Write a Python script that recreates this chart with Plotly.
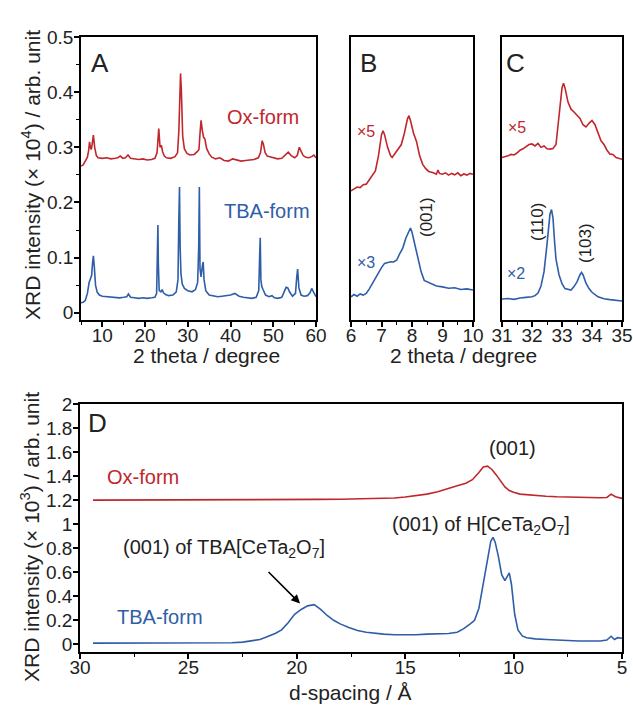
import plotly.graph_objects as go

W, H = 633, 706
RED = "#c0272d"
BLUE = "#2f5ea8"
FONT = "Arial, Liberation Sans, sans-serif"

# ---------------- Panel A (2 theta, wide range) ----------------
a_ox_x = [5.0, 5.5, 6.0, 6.5, 6.8, 7.0, 7.2, 7.4, 7.6, 7.9,
          8.2, 8.6, 9.0, 10, 11, 12, 13, 13.6, 14.2, 14.8,
          15.4, 16.0, 16.6, 17.5, 18.5, 19.5, 20.5, 21.5, 22.3, 22.8,
          23.2, 23.5, 23.8, 24.1, 24.5, 25, 26, 27, 27.6, 27.9,
          28.1, 28.3, 28.5, 28.8, 29.2, 29.8, 30.5, 31.5, 32.2, 32.6,
          32.9, 33.1, 33.4, 33.7, 34.0, 34.4, 35.0, 35.6, 36.5, 37.5,
          38.5, 39.5, 40.5, 41.5, 42.5, 43.5, 44.5, 45.5, 46.5, 47.0,
          47.4, 47.7, 48.1, 48.6, 49.2, 50, 51, 52, 52.8, 53.5,
          54.2, 55, 55.6, 56.1, 56.5, 57.0, 57.6, 58.3, 59.0, 59.5,
          60.0]
a_ox_y = [0.266, 0.268, 0.275, 0.282, 0.295, 0.310, 0.300, 0.296, 0.305, 0.322,
          0.300, 0.285, 0.281, 0.280, 0.281, 0.279, 0.280, 0.281, 0.284, 0.280,
          0.281, 0.286, 0.280, 0.279, 0.278, 0.279, 0.277, 0.278, 0.280, 0.290,
          0.334, 0.300, 0.304, 0.292, 0.284, 0.281, 0.280, 0.283, 0.290, 0.330,
          0.420, 0.434, 0.400, 0.320, 0.297, 0.289, 0.286, 0.287, 0.292, 0.296,
          0.330, 0.349, 0.330, 0.318, 0.315, 0.298, 0.288, 0.282, 0.279, 0.281,
          0.276, 0.275, 0.279, 0.277, 0.275, 0.276, 0.277, 0.278, 0.281, 0.290,
          0.312, 0.305, 0.290, 0.284, 0.283, 0.281, 0.279, 0.280, 0.285, 0.291,
          0.285, 0.281, 0.285, 0.300, 0.293, 0.285, 0.282, 0.281, 0.283, 0.286,
          0.281]

a_tba_x = [5.0, 5.5, 6.0, 6.5, 6.9, 7.2, 7.5, 7.7, 7.9, 8.1,
           8.4, 8.8, 9.3, 10, 11, 12, 13, 14, 15, 15.7,
           16.1, 16.6, 17.5, 18.5, 19.5, 20.5, 21.5, 22.3, 22.7, 22.9,
           23.0, 23.1, 23.3, 23.7, 24.0, 24.3, 24.8, 25.5, 26.5, 27.3,
           27.7, 27.9, 28.05, 28.2, 28.4, 28.7, 29.2, 30, 31, 31.8,
           32.3, 32.55, 32.7, 32.85, 33.1, 33.4, 33.6, 33.8, 34.2, 35,
           36, 37, 38, 39, 40, 41, 42, 43, 44, 45,
           46, 46.6, 46.8, 46.95, 47.1, 47.3, 47.6, 48.2, 49, 49.7,
           50.3, 51, 52, 52.6, 53.0, 53.4, 53.8, 54.5, 55.2, 55.5,
           55.7, 56.0, 56.5, 57.2, 58, 58.6, 59.0, 59.4, 60]
a_tba_y = [0.018, 0.019, 0.022, 0.035, 0.055, 0.060, 0.068, 0.090, 0.103, 0.085,
           0.050, 0.037, 0.032, 0.030, 0.029, 0.028, 0.027, 0.027, 0.028, 0.029,
           0.034, 0.028, 0.027, 0.026, 0.027, 0.026, 0.027, 0.028, 0.035, 0.100,
           0.159, 0.090, 0.040, 0.038, 0.042, 0.036, 0.033, 0.031, 0.032, 0.038,
           0.060, 0.170, 0.228, 0.120, 0.070, 0.052, 0.044, 0.040, 0.038, 0.042,
           0.055, 0.120, 0.228, 0.080, 0.065, 0.085, 0.092, 0.060, 0.040, 0.032,
           0.030, 0.029, 0.030, 0.031, 0.032, 0.035, 0.030, 0.028, 0.027, 0.026,
           0.028, 0.040, 0.100, 0.136, 0.060, 0.048, 0.042, 0.032, 0.029, 0.031,
           0.027, 0.026, 0.028, 0.040, 0.046, 0.045, 0.038, 0.030, 0.035, 0.065,
           0.079, 0.045, 0.032, 0.030, 0.031, 0.036, 0.044, 0.038, 0.029]

# ---------------- Panel B (6-10 deg, scaled) ----------------
b_ox_x = [6.0, 6.1, 6.2, 6.3, 6.4, 6.5, 6.6, 6.7, 6.8, 6.9, 7.0,
          7.05, 7.1, 7.2, 7.3, 7.35, 7.45, 7.55, 7.65, 7.75, 7.85,
          7.9, 7.95, 8.05, 8.15, 8.25, 8.35, 8.45, 8.55, 8.7, 8.8,
          8.85, 8.9, 9.0, 9.1, 9.2, 9.3, 9.4, 9.5, 9.6, 9.7,
          9.8, 9.9, 10.0]
b_ox_y = [0.456, 0.462, 0.470, 0.468, 0.478, 0.480, 0.495, 0.510, 0.527, 0.580, 0.655,
          0.669, 0.655, 0.610, 0.580, 0.574, 0.590, 0.605, 0.620, 0.660, 0.710,
          0.722, 0.705, 0.660, 0.630, 0.580, 0.550, 0.535, 0.525, 0.520, 0.515,
          0.530, 0.518, 0.515, 0.520, 0.512, 0.518, 0.513, 0.520, 0.510, 0.516,
          0.512, 0.518, 0.515]
b_tba_x = [6.0, 6.1, 6.2, 6.3, 6.4, 6.5, 6.6, 6.7, 6.8, 6.9,
           7.0, 7.1, 7.2, 7.3, 7.4, 7.5, 7.6, 7.7, 7.8, 7.9,
           7.95, 8.0, 8.1, 8.2, 8.3, 8.4, 8.5, 8.6, 8.7, 8.8,
           9.0, 9.2, 9.4, 9.6, 9.8, 10.0]
b_tba_y = [0.082, 0.090, 0.084, 0.092, 0.088, 0.094, 0.110, 0.130, 0.150, 0.170,
           0.185, 0.200, 0.202, 0.206, 0.205, 0.212, 0.235, 0.255, 0.290, 0.318,
           0.325, 0.310, 0.260, 0.210, 0.170, 0.140, 0.135, 0.128, 0.124, 0.120,
           0.117, 0.112, 0.114, 0.108, 0.110, 0.106]

# ---------------- Panel C (31-35 deg, scaled) ----------------
c_ox_x = [31.0, 31.1, 31.2, 31.3, 31.4, 31.5, 31.6, 31.7, 31.8, 31.9,
          32.0, 32.1, 32.2, 32.3, 32.4, 32.5, 32.6, 32.7, 32.8, 32.9,
          33.0, 33.05, 33.1, 33.2, 33.3, 33.4, 33.5, 33.6, 33.7, 33.8,
          33.9, 34.0, 34.1, 34.2, 34.3, 34.4, 34.5, 34.6, 34.7, 34.8,
          34.9, 35.0]
c_ox_y = [0.574, 0.576, 0.580, 0.585, 0.583, 0.590, 0.600, 0.605, 0.612, 0.620,
          0.622, 0.615, 0.624, 0.610, 0.615, 0.605, 0.604, 0.606, 0.620, 0.720,
          0.820, 0.837, 0.820, 0.770, 0.745, 0.735, 0.722, 0.712, 0.690, 0.682,
          0.695, 0.705, 0.690, 0.660, 0.633, 0.620, 0.600, 0.586, 0.585, 0.574,
          0.572, 0.568]
c_tba_x = [31.0, 31.2, 31.4, 31.6, 31.8, 32.0, 32.1, 32.2, 32.3, 32.4,
           32.5, 32.55, 32.6, 32.65, 32.7, 32.75, 32.8, 32.9, 33.0, 33.1,
           33.2, 33.3, 33.4, 33.5, 33.6, 33.65, 33.7, 33.8, 33.9, 34.0,
           34.2, 34.4, 34.6, 34.8, 35.0]
c_tba_y = [0.074, 0.076, 0.073, 0.078, 0.080, 0.082, 0.086, 0.095, 0.120, 0.170,
           0.267, 0.330, 0.375, 0.390, 0.360, 0.280, 0.215, 0.160, 0.128, 0.111,
           0.108, 0.106, 0.118, 0.135, 0.160, 0.168, 0.160, 0.130, 0.111, 0.098,
           0.082, 0.075, 0.072, 0.069, 0.067]

# ---------------- Panel D (d-spacing) ----------------
d_ox_x = [29.4, 28, 26.5, 25, 23.5, 22, 21, 20, 19, 18,
          17, 16, 15.5, 15, 14.5, 14, 13.5, 13, 12.6, 12.2,
          11.9, 11.6, 11.4, 11.2, 11.0, 10.8, 10.6, 10.4, 10.2, 10.0,
          9.7, 9.4, 9.0, 8.5, 8.0, 7.5, 7.0, 6.5, 6.0, 5.7,
          5.5, 5.3, 5.0]
d_ox_y = [1.200, 1.200, 1.200, 1.200, 1.201, 1.202, 1.203, 1.204, 1.206, 1.207,
          1.209, 1.213, 1.218, 1.226, 1.235, 1.250, 1.270, 1.300, 1.320, 1.340,
          1.370, 1.430, 1.475, 1.483, 1.455, 1.410, 1.360, 1.310, 1.280, 1.265,
          1.250, 1.245, 1.238, 1.232, 1.228, 1.225, 1.222, 1.224, 1.220, 1.222,
          1.250, 1.228, 1.214]
d_tba_x = [29.4, 28, 26, 24, 23, 22.5, 22, 21.7, 21.4, 21.0,
           20.7, 20.4, 20.1, 19.8, 19.5, 19.2, 18.9, 18.6, 18.3, 18.0,
           17.6, 17.2, 16.8, 16.4, 16.0, 15.5, 15.0, 14.5, 14.0, 13.5,
           13.0, 12.6, 12.3, 12.0, 11.8, 11.6, 11.4, 11.2, 11.05, 10.95,
           10.85, 10.7, 10.55, 10.4, 10.3, 10.2, 10.1, 9.95, 9.8, 9.6,
           9.4, 9.0, 8.5, 8.0, 7.5, 7.0, 6.5, 6.0, 5.7, 5.5,
           5.35, 5.2, 5.0]
d_tba_y = [0.010, 0.010, 0.010, 0.011, 0.013, 0.018, 0.028, 0.040, 0.060, 0.090,
           0.120, 0.180, 0.250, 0.290, 0.320, 0.330, 0.290, 0.240, 0.200, 0.170,
           0.140, 0.115, 0.100, 0.090, 0.085, 0.080, 0.078, 0.080, 0.085, 0.087,
           0.090, 0.100, 0.130, 0.170, 0.200, 0.300, 0.500, 0.720, 0.860, 0.890,
           0.850, 0.730, 0.580, 0.530, 0.560, 0.594, 0.500, 0.250, 0.120, 0.070,
           0.055, 0.045, 0.040, 0.035, 0.030, 0.028, 0.027, 0.028, 0.035, 0.067,
           0.040, 0.055, 0.050]


def px(x):
    return x / W


def py(y):
    return 1 - y / H


fig = go.Figure()
line_w = 1.6
series = [
    (a_ox_x, a_ox_y, RED, "x", "y"), (a_tba_x, a_tba_y, BLUE, "x", "y"),
    (b_ox_x, b_ox_y, RED, "x2", "y2"), (b_tba_x, b_tba_y, BLUE, "x2", "y2"),
    (c_ox_x, c_ox_y, RED, "x3", "y3"), (c_tba_x, c_tba_y, BLUE, "x3", "y3"),
    (d_ox_x, d_ox_y, RED, "x4", "y4"), (d_tba_x, d_tba_y, BLUE, "x4", "y4"),
]
for xs, ys, col, xa, ya in series:
    assert len(xs) == len(ys), (len(xs), len(ys))
    fig.add_trace(go.Scatter(x=xs, y=ys, mode="lines", xaxis=xa, yaxis=ya,
                             line=dict(color=col, width=line_w), showlegend=False,
                             hoverinfo="skip"))

TICKF = dict(family=FONT, size=19, color="#222")
axis_common = dict(showline=True, linecolor="black", linewidth=1.5, mirror=True,
                   ticks="outside", tickcolor="black", tickwidth=1.5, ticklen=5,
                   showgrid=False, zeroline=False, tickfont=TICKF, automargin=False)
MINOR = dict(ticks="outside", ticklen=3, tickcolor="black", tickwidth=1.2, showgrid=False)
noy = dict(showline=True, linecolor="black", linewidth=1.5, mirror=True, ticks="",
           showticklabels=False, showgrid=False, zeroline=False, automargin=False)
XS = -8   # pull x tick labels closer to the axis
YS = -3

top_dom = [py(320), py(37)]
fig.update_layout(
    width=W, height=H, margin=dict(l=0, r=0, t=0, b=0, autoexpand=False),
    paper_bgcolor="white", plot_bgcolor="white",
    font=dict(family=FONT, color="#222"),
    xaxis=dict(domain=[px(81), px(316)], range=[5, 60], anchor="y", dtick=10, tick0=0,
               ticklabelstandoff=XS, minor=dict(dtick=5, tick0=0, **MINOR), **axis_common),
    yaxis=dict(domain=top_dom, range=[-0.0132, 0.5], anchor="x", dtick=0.1, tick0=0,
               ticklabelstandoff=YS, minor=dict(dtick=0.05, tick0=0, **MINOR), **axis_common),
    xaxis2=dict(domain=[px(351), px(473)], range=[6, 10], anchor="y2", dtick=1, tick0=0,
                ticklabelstandoff=XS, minor=dict(dtick=0.5, tick0=0, **MINOR), **axis_common),
    yaxis2=dict(domain=top_dom, range=[0, 1], anchor="x2", **noy),
    xaxis3=dict(domain=[px(502), px(622)], range=[31, 35], anchor="y3", dtick=1, tick0=0,
                ticklabelstandoff=XS, minor=dict(dtick=0.5, tick0=0, **MINOR), **axis_common),
    yaxis3=dict(domain=top_dom, range=[0, 1], anchor="x3", **noy),
    xaxis4=dict(domain=[px(80), px(622)], range=[30, 5], anchor="y4", dtick=5, tick0=0,
                ticklabelstandoff=XS, minor=dict(dtick=2.5, tick0=0, **MINOR), **axis_common),
    yaxis4=dict(domain=[py(652), py(404)], range=[-0.064, 2], anchor="x4", dtick=0.2, tick0=0,
                ticklabelstandoff=YS, **axis_common),
)

ann = []


def txt(x, y, s, size=20, color="#222", angle=0, xanchor="center"):
    ann.append(dict(x=px(x), y=py(y), xref="paper", yref="paper", text=s, showarrow=False,
                    textangle=angle, xanchor=xanchor, yanchor="middle",
                    font=dict(family=FONT, size=size, color=color)))


# axis titles
txt(31, 175, "XRD intensity (× 10<sup>4</sup>) / arb. unit", size=21, angle=-90)
txt(206, 355, "2 theta / degree", size=21)
txt(463, 355, "2 theta / degree", size=21)
txt(30, 537, "XRD intensity (× 10<sup>3</sup>) / arb. unit", size=21, angle=-90)
txt(351, 692, "d-spacing / Å", size=21)

# panel letters
txt(100, 63, "A", size=26)
txt(368, 63, "B", size=26)
txt(515, 63, "C", size=26)
txt(97, 423, "D", size=26)

# panel A labels
txt(263, 117, "Ox-form", size=20, color=RED)
txt(267, 211, "TBA-form", size=20, color=BLUE)

# panel B labels
txt(366, 131, "×5", size=16, color=RED)
txt(366, 262, "×3", size=16, color=BLUE)
txt(427, 217, "(001)", size=17, angle=-90)

# panel C labels
txt(517, 127, "×5", size=16, color=RED)
txt(516, 273, "×2", size=16, color=BLUE)
txt(537, 222, "(110)", size=17, angle=-90)
txt(585, 243, "(103)", size=17, angle=-90)

# panel D labels
txt(143, 477, "Ox-form", size=20, color=RED)
txt(160, 617, "TBA-form", size=20, color=BLUE)
txt(512, 448, "(001)", size=20)
txt(481, 525, "(001) of H[CeTa<sub>2</sub>O<sub>7</sub>]", size=20)
txt(224, 548, "(001) of TBA[CeTa<sub>2</sub>O<sub>7</sub>]", size=20)

ann.append(dict(x=19.85, y=0.34, xref="x4", yref="y4", ax=-33, ay=-33,
                showarrow=True, arrowhead=2, arrowsize=1.1, arrowwidth=1.6,
                arrowcolor="black", text=""))

fig.update_layout(annotations=ann)
fig.write_html("out.html", config={"displayModeBar": False},
               post_script="document.body.style.margin='0px';document.body.style.padding='0px';")
